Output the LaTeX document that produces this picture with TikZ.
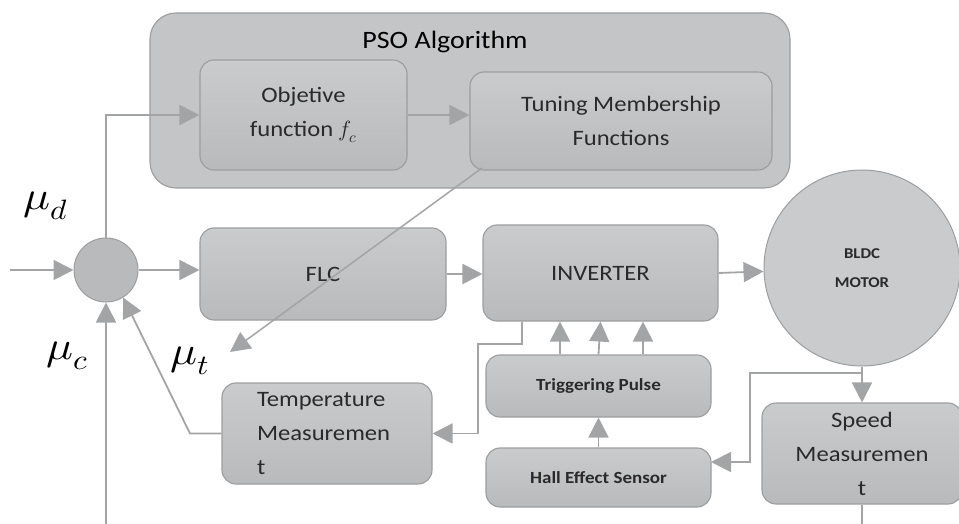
\documentclass[tikz,border=0pt]{standalone}
\usepackage{fontspec}
\usepackage{unicode-math}
\setmainfont{Carlito}[FakeStretch=1.12]
\setmathfont{Latin Modern Math}
\usetikzlibrary{arrows.meta}
\definecolor{boxtop}{HTML}{CACBCD}
\definecolor{boxbot}{HTML}{B9BABC}
\definecolor{psofill}{HTML}{C4C5C7}
\definecolor{boxline}{HTML}{9C9D9F}
\definecolor{arrc}{HTML}{A3A4A6}
\definecolor{textc}{HTML}{2A2A2A}
\begin{document}
\begin{tikzpicture}[x=1pt,y=-1pt,
  box/.style={draw=boxline, line width=1.1pt, rounded corners=14pt,
    top color=boxtop, bottom color=boxbot, text=textc, align=center,
    inner sep=0pt, font={\fontsize{22}{34}\selectfont}},
  smallbox/.style={box, font={\fontsize{17}{20}\selectfont\bfseries}},
  roundnode/.style={circle, draw=boxline, line width=1pt, fill=boxbot, inner sep=0pt},
  arr/.style={draw=arrc, line width=1.8pt, -{Triangle[length=20pt,width=20pt]}},
  plain/.style={draw=arrc, line width=1.8pt},
  mathlab/.style={font={\fontsize{40}{40}\selectfont}, text=black, inner sep=0pt, xscale=1.12}]
\useasboundingbox (0,0) rectangle (959,524);

% PSO container
\node[draw=boxline, line width=1.1pt, rounded corners=26pt, fill=psofill,
      minimum width=640pt, minimum height=175pt, inner sep=0pt] (pso) at (470,100.5) {};
\node[text=black, font={\fontsize{25}{30}\selectfont}] (psotitle) at (445,42) {PSO Algorithm};
\node[box, minimum width=207pt, minimum height=110pt] (obj) at (303.5,115) {Objetive\\function $f_c$};
\node[box, minimum width=302pt, minimum height=98pt] (tune) at (621,121) {Tuning Membership\\Functions};

% main row
\node[roundnode, minimum size=64pt] (sum) at (106,270) {};
\node[box, minimum width=246pt, minimum height=92pt] (flc) at (323,274) {FLC};
\node[box, minimum width=235pt, minimum height=96pt] (inv) at (600.5,273) {INVERTER};
\node[roundnode, minimum size=196pt, fill=boxtop, align=center, text=textc,
      font={\fontsize{15}{29}\selectfont\bfseries}] (motor) at (862,268) {BLDC\\MOTOR};

% lower blocks
\node[smallbox, minimum width=225pt, minimum height=62pt] (trig) at (598.5,386) {Triggering Pulse};
\node[smallbox, minimum width=225pt, minimum height=59pt] (hall) at (598.5,477.5) {Hall Effect Sensor};
\node[box, minimum width=210pt, minimum height=101pt, text width=140pt, align=left] (temp) at (327,433.5) {Temperature\\Measuremen\\t};
\node[box, minimum width=200pt, minimum height=101pt] (speed) at (862,453.5) {Speed\\Measuremen\\t};

% labels
\node[mathlab] (mud) at (46,206) {$\mu_d$};
\node[mathlab] (muc) at (67,356) {$\mu_c$};
\node[mathlab] (mut) at (190,361) {$\mu_t$};

% coordinates
\coordinate (in) at (10,270);
\coordinate (bot) at (106,524);
\coordinate (mb) at (862,373);
\coordinate (mc) at (750,373);
\coordinate (hin) at (711,462);
\coordinate (sb) at (862,524);
\coordinate (t1) at (522,344);
\coordinate (t2) at (478,344);
\coordinate (tl) at (190,433.5);
\coordinate (dstart) at (482,168);
\coordinate (dend) at (230,352);

% connectors
\draw[arr] (in) -- (sum.west);
\draw[arr] (sum.east) -- (sum.east -| flc.west);
\draw[arr] (sum.north) |- (obj.west);
\draw[arr] (obj.east) -- (obj.east -| tune.west);
\draw[arr] (flc.east) -- (flc.east -| inv.west);
\draw[arr] (inv.east) -- (motor);
\draw[arr] (motor.south) -- (speed.north);
\draw[arr] (mb) -- (mc) |- (hin);
\draw[plain] (speed.south) -- (sb);
\draw[arr] (hall.north) -- (trig.south);
\draw[arr] ([xshift=-38.5pt]trig.north) -- ([xshift=-38.5pt]trig.north |- inv.south);
\draw[arr] (trig.north) -- (inv.south);
\draw[arr] ([xshift=44.5pt]trig.north) -- ([xshift=44.5pt]trig.north |- inv.south);
\draw[arr] (t1 |- inv.south) -- (t1) -- (t2) |- (temp.east);
\draw[arr] (temp.west) -- (tl) -- (sum.-58);
\draw[arr] (bot) -- (sum.south);
\draw[arr, line width=1.5pt] (dstart) -- (dend);
\end{tikzpicture}
\end{document}
